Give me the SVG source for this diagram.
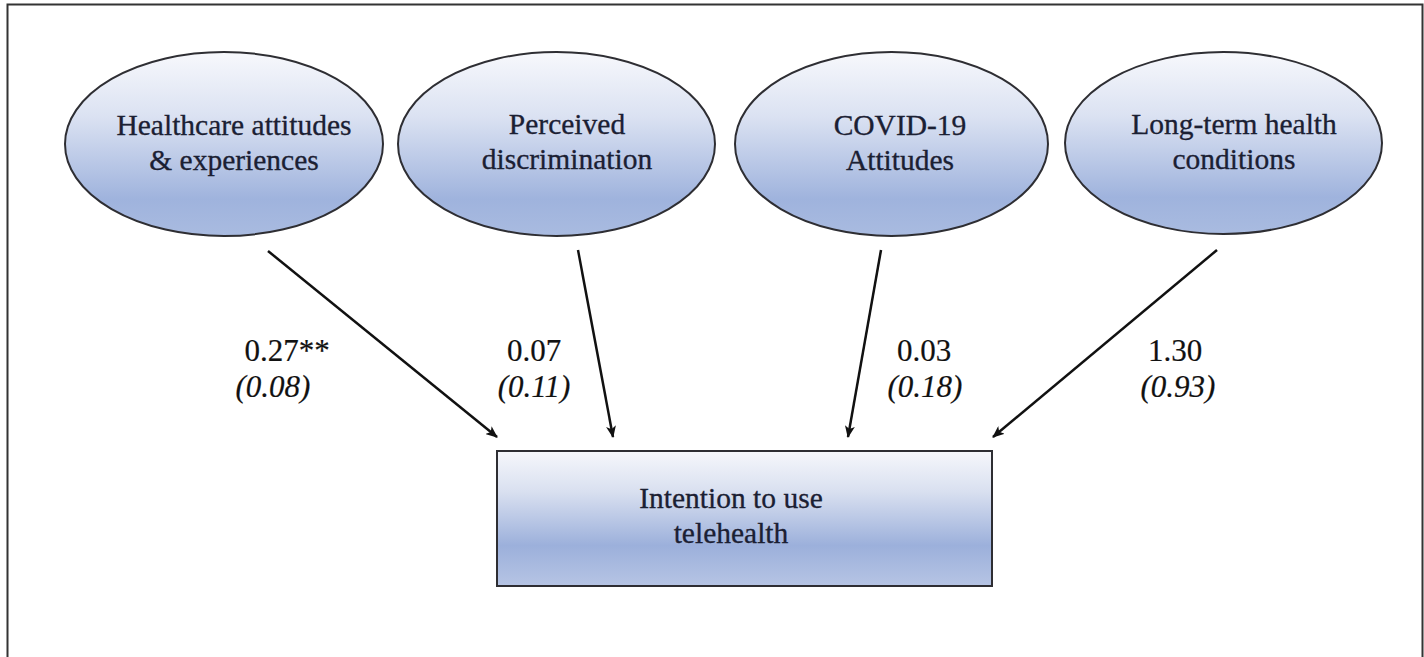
<svg xmlns="http://www.w3.org/2000/svg" width="1424" height="657" viewBox="0 0 1424 657">
<defs>
<linearGradient id="gEll" x1="0" y1="0" x2="0" y2="1">
<stop offset="0" stop-color="#f7f8fc"/>
<stop offset="0.35" stop-color="#dbe2f2"/>
<stop offset="0.8" stop-color="#9fb3dd"/>
<stop offset="1" stop-color="#a9bbe0"/>
</linearGradient>
<linearGradient id="gRect" x1="0" y1="0" x2="0" y2="1">
<stop offset="0" stop-color="#f6f7fb"/>
<stop offset="0.3" stop-color="#d9e0f0"/>
<stop offset="0.7" stop-color="#9cb0db"/>
<stop offset="1" stop-color="#b6c4e4"/>
</linearGradient>
<marker id="arr" viewBox="0 0 12 10" refX="11" refY="5" markerWidth="12" markerHeight="10" markerUnits="userSpaceOnUse" orient="auto">
<path d="M0,0 L12,5 L0,10 L3,5 Z" fill="#111"/>
</marker>
<style>
.node{fill:url(#gEll);stroke:#2e2e33;stroke-width:2}
.box{fill:url(#gRect);stroke:#2e2e33;stroke-width:2}
.nt{font-size:29.5px;fill:#1b2033;stroke:#1b2033;stroke-width:0.3;text-anchor:middle}
.lb{font-size:31px;fill:#111;stroke:#111;stroke-width:0.2;text-anchor:middle}
.se{font-style:italic}
.edge{stroke:#111;stroke-width:2.5;fill:none;marker-end:url(#arr)}
</style>
</defs>
<rect x="0" y="0" width="1424" height="657" fill="#fff"/>
<path d="M7.5,660 V4.5 H1422.5 V660" fill="none" stroke="#333" stroke-width="2"/>
<g font-family="Liberation Serif, Times New Roman, serif">
<g id="n-healthcare">
<ellipse class="node" cx="224" cy="144" rx="159" ry="92"/>
<text class="nt" x="234" y="135">Healthcare attitudes</text>
<text class="nt" x="234" y="170">&amp; experiences</text>
</g>
<g id="n-discrimination">
<ellipse class="node" cx="556.5" cy="144" rx="158.5" ry="92"/>
<text class="nt" x="567" y="134">Perceived</text>
<text class="nt" x="567" y="169">discrimination</text>
</g>
<g id="n-covid">
<ellipse class="node" cx="891.5" cy="144" rx="156.5" ry="92"/>
<text class="nt" x="900" y="135">COVID-19</text>
<text class="nt" x="900" y="170">Attitudes</text>
</g>
<g id="n-longterm">
<ellipse class="node" cx="1223.5" cy="143" rx="158.5" ry="91"/>
<text class="nt" x="1234" y="134">Long-term health</text>
<text class="nt" x="1234" y="169">conditions</text>
</g>
<g id="n-intention">
<rect class="box" x="497" y="451" width="495" height="135"/>
<text class="nt" x="731" y="508">Intention to use</text>
<text class="nt" x="731" y="543">telehealth</text>
</g>
<g id="connectors">
<line class="edge" x1="268" y1="251" x2="497" y2="437"/>
<line class="edge" x1="578" y1="250" x2="613" y2="437"/>
<line class="edge" x1="881" y1="250" x2="848" y2="437"/>
<line class="edge" x1="1217" y1="250" x2="993" y2="437"/>
<text class="lb" x="287" y="361">0.27**</text>
<text class="lb se" x="273" y="397">(0.08)</text>
<text class="lb" x="534" y="361">0.07</text>
<text class="lb se" x="534" y="397">(0.11)</text>
<text class="lb" x="924" y="361">0.03</text>
<text class="lb se" x="925" y="397">(0.18)</text>
<text class="lb" x="1175" y="361">1.30</text>
<text class="lb se" x="1178" y="397">(0.93)</text>
</g>
</g>
</svg>
